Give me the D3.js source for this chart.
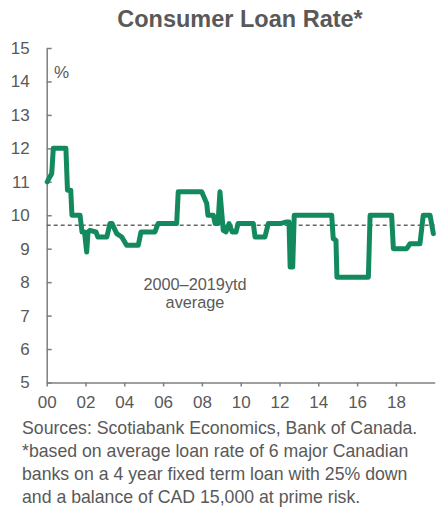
<!DOCTYPE html>
<html>
<head>
<meta charset="utf-8">
<script src="https://cdn.jsdelivr.net/npm/d3@7"></script>
<style>
  html, body { margin: 0; padding: 0; background: #fff; }
  svg { display: block; font-family: "Liberation Sans", Arial, sans-serif; }
</style>
</head>
<body>
<svg id="chart" width="438" height="507"></svg>
<script>
// ---- data (decimal years, % rate) ----
const years = [2000.03, 2000.12, 2000.26, 2000.34, 2000.99, 2001.07, 2001.24, 2001.30, 2001.72, 2001.82,
  2001.95, 2002.06, 2002.13, 2002.23, 2002.54, 2002.64, 2003.10, 2003.26, 2003.37, 2003.61,
  2003.87, 2004.12, 2004.72, 2004.86, 2005.58, 2005.74, 2006.70, 2006.78, 2007.99, 2008.25,
  2008.31, 2008.59, 2008.68, 2008.83, 2008.93, 2009.10, 2009.24, 2009.40, 2009.56, 2009.76,
  2009.86, 2010.65, 2010.74, 2011.25, 2011.42, 2012.03, 2012.37, 2012.49, 2012.55, 2012.68,
  2012.76, 2014.69, 2014.77, 2014.91, 2014.96, 2016.58, 2016.67, 2017.78, 2017.87, 2018.56,
  2018.73, 2019.24, 2019.41, 2019.76, 2019.93];
const rates = [11.0, 11.1, 11.25, 12.0, 12.0, 10.75, 10.75, 10.0, 10.0, 9.5,
  9.5, 8.9, 9.5, 9.55, 9.5, 9.35, 9.35, 9.75, 9.75, 9.45,
  9.35, 9.1, 9.1, 9.5, 9.5, 9.75, 9.75, 10.7, 10.7, 10.35,
  10.0, 10.0, 9.75, 9.75, 10.7, 9.55, 9.5, 9.75, 9.5, 9.5,
  9.75, 9.75, 9.35, 9.35, 9.75, 9.75, 9.8, 9.8, 8.45, 8.45,
  10.0, 10.0, 9.3, 9.25, 8.15, 8.15, 10.0, 10.0, 9.0, 9.0,
  9.15, 9.15, 10.0, 10.0, 9.45];
const averageRate = 9.7;
const yTicks = [5, 6, 7, 8, 9, 10, 11, 12, 13, 14, 15];
const xTicks = [2000, 2002, 2004, 2006, 2008, 2010, 2012, 2014, 2016, 2018];
const xTickLabels = ["00", "02", "04", "06", "08", "10", "12", "14", "16", "18"];
const title = "Consumer Loan Rate*";
const unitLabel = "%";
const avgLabel = ["2000–2019ytd", "average"];
const sourceLines = [
  "Sources: Scotiabank Economics, Bank of Canada.",
  "*based on average loan rate of 6 major Canadian",
  "banks on a 4 year fixed term loan with 25% down",
  "and a balance of CAD 15,000 at prime risk."
];

// ---- layout ----
const svg = d3.select("#chart");
const x = d3.scaleLinear().domain([2000, 2020]).range([46.7, 434.7]);
const y = d3.scaleLinear().domain([5, 15]).range([382.5, 48]);
const textColor = "#595959";
const axisColor = "#7f7f7f";

// title
svg.append("text").attr("x", 240).attr("y", 27).attr("text-anchor", "middle")
  .attr("font-size", 23.5).attr("font-weight", "bold").attr("fill", textColor).text(title);

// y axis
const yAxis = d3.axisLeft(y).tickValues(yTicks).tickSizeInner(-5).tickSizeOuter(0).tickPadding(0);
const gy = svg.append("g").attr("transform", `translate(${x(2000)},0)`).call(yAxis);
gy.select(".domain").attr("stroke", axisColor).attr("stroke-width", 1.5);
gy.selectAll(".tick line").attr("stroke", axisColor).attr("stroke-width", 1.5);
gy.selectAll(".tick text").attr("x", -17).attr("font-size", 17).attr("fill", textColor)
  .attr("font-family", "Liberation Sans, Arial, sans-serif");

// x axis
const xAxis = d3.axisBottom(x).tickValues(xTicks).tickFormat((d, i) => xTickLabels[i])
  .tickSizeInner(4).tickSizeOuter(0).tickPadding(9);
const gx = svg.append("g").attr("transform", `translate(0,${y(5)})`).call(xAxis);
gx.select(".domain").attr("stroke", axisColor).attr("stroke-width", 1.5);
gx.selectAll(".tick line").attr("stroke", axisColor).attr("stroke-width", 1.5);
gx.selectAll(".tick text").attr("font-size", 17).attr("fill", textColor)
  .attr("font-family", "Liberation Sans, Arial, sans-serif");

// % label
svg.append("text").attr("x", 54).attr("y", 78).attr("font-size", 17).attr("fill", textColor).text(unitLabel);

// average dashed line
svg.append("line").attr("x1", x(2000)).attr("x2", x(2020)).attr("y1", y(averageRate)).attr("y2", y(averageRate))
  .attr("stroke", "#666").attr("stroke-width", 1.5).attr("stroke-dasharray", "4,3");

// series line
const data = years.map((yr, i) => ({ yr, v: rates[i] }));
svg.append("path").datum(data)
  .attr("fill", "none").attr("stroke", "#138a5e").attr("stroke-width", 5)
  .attr("stroke-linejoin", "round").attr("stroke-linecap", "round")
  .attr("d", d3.line().x(d => x(d.yr)).y(d => y(d.v)));

// average label
avgLabel.forEach((t, i) => {
  svg.append("text").attr("x", 195).attr("y", 290 + i * 18).attr("text-anchor", "middle")
    .attr("font-size", 16.3).attr("fill", textColor).text(t);
});

// sources
sourceLines.forEach((t, i) => {
  svg.append("text").attr("x", 22).attr("y", 434 + i * 23).attr("font-size", 17.7)
    .attr("fill", textColor).text(t);
});
</script>
</body>
</html>
